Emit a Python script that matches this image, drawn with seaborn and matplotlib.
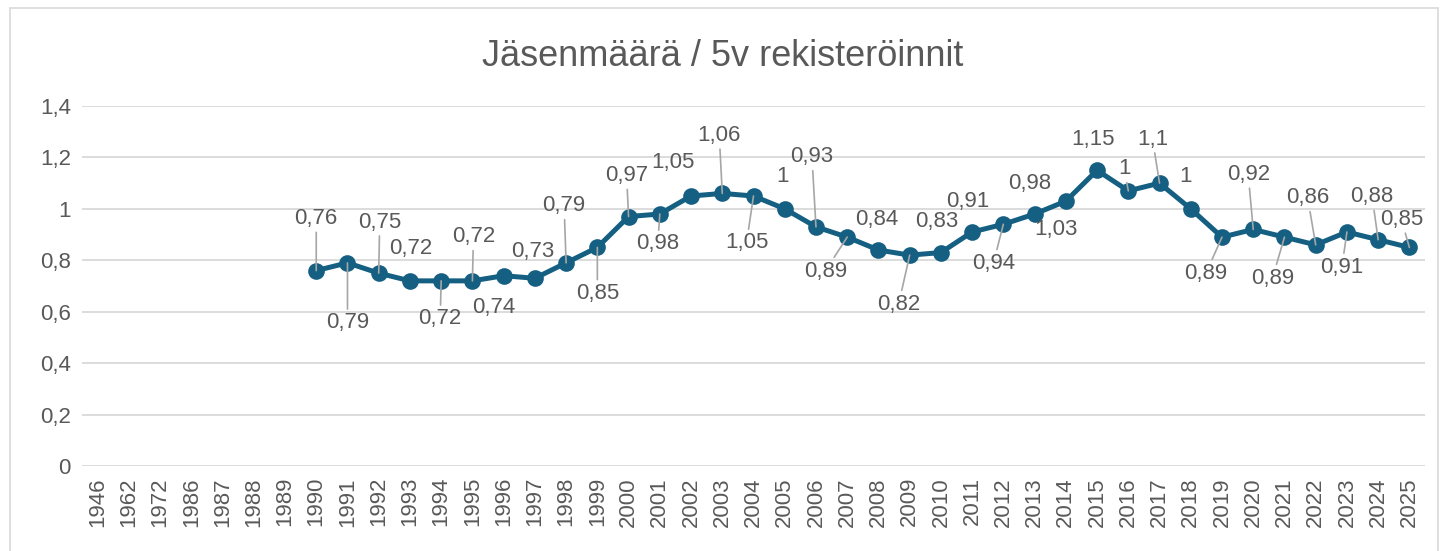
import matplotlib
matplotlib.use("Agg")
import matplotlib.pyplot as plt
import seaborn as sns
import numpy as np
from matplotlib.patches import Rectangle

# Category axis (text categories, as in the source sheet)
categories = ["1946", "1962", "1972", "1986", "1987", "1988", "1989",
              "1990", "1991", "1992", "1993", "1994", "1995", "1996", "1997",
              "1998", "1999", "2000", "2001", "2002", "2003", "2004", "2005",
              "2006", "2007", "2008", "2009", "2010", "2011", "2012", "2013",
              "2014", "2015", "2016", "2017", "2018", "2019", "2020", "2021",
              "2022", "2023", "2024", "2025"]

# Years that have a value, and the values
data_years = ["1990", "1991", "1992", "1993", "1994", "1995", "1996", "1997",
              "1998", "1999", "2000", "2001", "2002", "2003", "2004", "2005",
              "2006", "2007", "2008", "2009", "2010", "2011", "2012", "2013",
              "2014", "2015", "2016", "2017", "2018", "2019", "2020", "2021",
              "2022", "2023", "2024", "2025"]
values = [0.76, 0.79, 0.75, 0.72, 0.72, 0.72, 0.74, 0.73,
          0.79, 0.85, 0.97, 0.98, 1.05, 1.06, 1.05, 1.00,
          0.93, 0.89, 0.84, 0.82, 0.83, 0.91, 0.94, 0.98,
          1.03, 1.15, 1.07, 1.10, 1.00, 0.89, 0.92, 0.89,
          0.86, 0.91, 0.88, 0.85]
label_texts = ["0,76", "0,79", "0,75", "0,72", "0,72", "0,72", "0,74", "0,73",
               "0,79", "0,85", "0,97", "0,98", "1,05", "1,06", "1,05", "1",
               "0,93", "0,89", "0,84", "0,82", "0,83", "0,91", "0,94", "0,98",
               "1,03", "1,15", "1", "1,1", "1", "0,89", "0,92", "0,89",
               "0,86", "0,91", "0,88", "0,85"]

y_ticks = [0, 0.2, 0.4, 0.6, 0.8, 1.0, 1.2, 1.4]
y_tick_labels = ["0", "0,2", "0,4", "0,6", "0,8", "1", "1,2", "1,4"]

# label placement (pixels from the point) and whether a leader line is drawn
label_offsets = [(0, 52), (0, -60), (1, 51), (1, 32), (-1, -38), (1, 44), (-10, -32), (-2, 27),
                 (-2, 57), (0, -46), (-2, 41), (-2, -30), (-18, 33), (-3, 58), (-7, -47), (-2, 32),
                 (-4, 70), (-22, -34), (-2, 31), (-11, -49), (-4, 31), (-4, 30), (-10, -39), (-5, 31),
                 (-10, -28), (-4, 31), (-4, 22), (-7, 44), (-5, 32), (-16, -36), (-5, 55), (-12, -41),
                 (-8, 47), (-5, -35), (-6, 43), (-8, 28)]
leaders = [True, True, True, False, True, True, False, False,
           True, True, True, True, False, True, True, False,
           True, True, False, True, False, False, True, False,
           False, False, True, True, False, True, True, True,
           True, True, True, True]

LINE_COLOR = "#156082"
TEXT_COLOR = "#595959"
GRID_COLOR = "#d9d9d9"

sns.set_style("white")
plt.rcParams["font.family"] = ["Liberation Sans", "DejaVu Sans"]

fig = plt.figure(figsize=(14.46, 5.51), dpi=100)
ax = fig.add_axes([82 / 1446, 85 / 551, (1425 - 82) / 1446, 360 / 551])

x_pos = [categories.index(y) for y in data_years]
sns.lineplot(x=x_pos, y=values, ax=ax, color=LINE_COLOR, linewidth=3.6,
             marker="o", markersize=12, markeredgewidth=0, zorder=3)

for xp, v, txt, (dx, dy), lead in zip(x_pos, values, label_texts, label_offsets, leaders):
    kw = {}
    if lead:
        kw["arrowprops"] = dict(arrowstyle="-", color="#a6a6a6", lw=1.2,
                                shrinkA=0, shrinkB=0)
    ax.annotate(txt, xy=(xp, v), xytext=(dx, dy), textcoords="offset pixels",
                ha="center", va="center", fontsize=16, color=TEXT_COLOR,
                zorder=4, **kw)

ax.set_xlim(-0.5, len(categories) - 0.5)
ax.set_ylim(0, 1.4)
ax.set_xticks(range(len(categories)))
ax.set_xticklabels(categories, rotation=90, fontsize=16, color=TEXT_COLOR)
ax.set_yticks(y_ticks)
ax.set_yticklabels(y_tick_labels, fontsize=16, color=TEXT_COLOR)
ax.tick_params(axis="both", length=0, pad=8)
ax.grid(axis="y", color=GRID_COLOR, linewidth=1.3)
ax.set_axisbelow(True)
sns.despine(ax=ax, left=True, bottom=True)
ax.set_xlabel("")
ax.set_ylabel("")

fig.text(0.5, 1 - 56 / 551, "Jäsenmäärä / 5v rekisteröinnit", ha="center",
         va="center", fontsize=26, color=TEXT_COLOR)

# chart area border
fig.patches.append(Rectangle((10 / 1446, -0.01), 1428 / 1446, 1 - 8 / 551 + 0.01,
                             transform=fig.transFigure, fill=False,
                             edgecolor=GRID_COLOR, linewidth=1.2))

fig.savefig("out.png", dpi=100)
